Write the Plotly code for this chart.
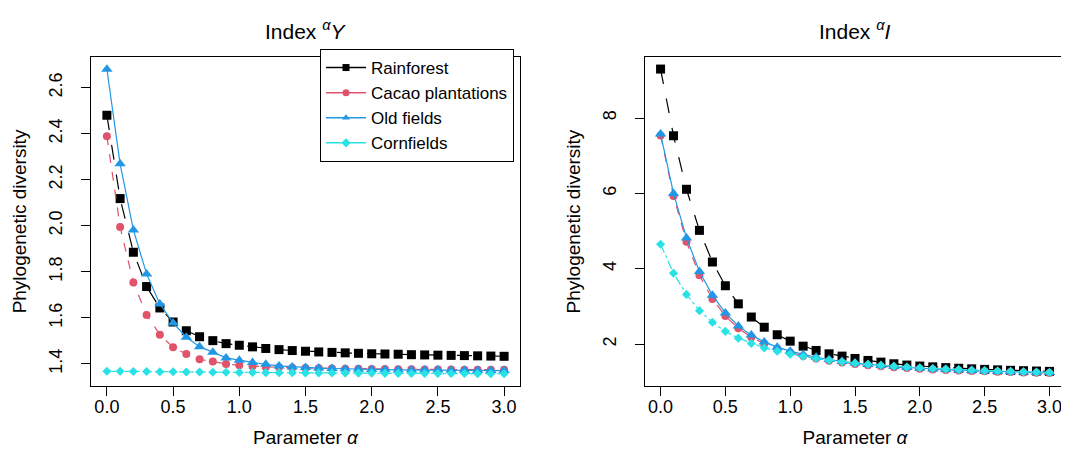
import plotly.graph_objects as go

alpha = [round(0.1 * i, 1) for i in range(31)]

series = ["Rainforest", "Cacao plantations", "Old fields", "Cornfields"]

# Index aY (left panel)
y_rain = [2.48, 2.118, 1.885, 1.736, 1.643, 1.582, 1.544, 1.518, 1.501, 1.488, 1.481,
          1.474, 1.467, 1.462, 1.458, 1.455, 1.452, 1.450, 1.448, 1.446, 1.444,
          1.443, 1.442, 1.440, 1.439, 1.438, 1.437, 1.436, 1.435, 1.434, 1.433]
y_cacao = [2.389, 1.995, 1.754, 1.612, 1.527, 1.472, 1.443, 1.420, 1.410, 1.400, 1.394,
           1.390, 1.387, 1.385, 1.383, 1.382, 1.381, 1.380, 1.379, 1.379, 1.378,
           1.378, 1.377, 1.377, 1.376, 1.376, 1.376, 1.375, 1.375, 1.375, 1.375]
y_old = [2.680, 2.269, 1.982, 1.791, 1.660, 1.578, 1.516, 1.475, 1.451, 1.426, 1.416,
         1.406, 1.398, 1.391, 1.387, 1.384, 1.382, 1.380, 1.378, 1.377, 1.376,
         1.375, 1.374, 1.374, 1.373, 1.373, 1.372, 1.372, 1.371, 1.371, 1.371]
y_corn = [1.368, 1.368, 1.367, 1.367, 1.366, 1.366, 1.365, 1.365, 1.364, 1.364, 1.363,
          1.363, 1.362, 1.362, 1.362, 1.361, 1.361, 1.361, 1.360, 1.360, 1.360,
          1.359, 1.359, 1.359, 1.358, 1.358, 1.358, 1.358, 1.357, 1.357, 1.357]

# Index aI (right panel)
i_rain = [9.30, 7.53, 6.11, 5.02, 4.18, 3.55, 3.07, 2.72, 2.45, 2.25, 2.08,
          1.947, 1.833, 1.744, 1.683, 1.621, 1.568, 1.524, 1.480, 1.445, 1.419,
          1.398, 1.378, 1.361, 1.345, 1.331, 1.318, 1.306, 1.296, 1.287, 1.278]
i_cacao = [7.54, 5.93, 4.72, 3.83, 3.20, 2.75, 2.42, 2.185, 2.01, 1.877, 1.77,
           1.686, 1.618, 1.562, 1.515, 1.476, 1.443, 1.414, 1.389, 1.367, 1.348,
           1.331, 1.316, 1.302, 1.290, 1.279, 1.268, 1.259, 1.250, 1.242, 1.235]
i_old = [7.58, 6.00, 4.82, 3.93, 3.30, 2.83, 2.48, 2.24, 2.06, 1.92, 1.815,
         1.726, 1.652, 1.592, 1.541, 1.499, 1.463, 1.432, 1.405, 1.382, 1.361,
         1.343, 1.327, 1.312, 1.299, 1.287, 1.276, 1.266, 1.258, 1.250, 1.250]
i_corn = [4.65, 3.885, 3.32, 2.89, 2.58, 2.34, 2.16, 2.02, 1.90, 1.815, 1.736,
          1.672, 1.618, 1.571, 1.531, 1.496, 1.465, 1.438, 1.414, 1.392, 1.373,
          1.355, 1.339, 1.325, 1.311, 1.299, 1.288, 1.277, 1.268, 1.259, 1.250]

x_ticks = [0.0, 0.5, 1.0, 1.5, 2.0, 2.5, 3.0]
x_ticklabels = ["0.0", "0.5", "1.0", "1.5", "2.0", "2.5", "3.0"]
yl_ticks = [1.4, 1.6, 1.8, 2.0, 2.2, 2.4, 2.6]
yr_ticks = [2, 4, 6, 8]

colors = ["#000000", "#DF536B", "#2297E6", "#28E2E5"]
symbols = ["square", "circle", "triangle-up", "diamond"]
msizes = [9, 8, 10, 7]
dashes = ["longdash", "dash", "solid", "dashdot"]

FONT = "Liberation Sans, Arial, sans-serif"

fig = go.Figure()

left_data = [y_rain, y_cacao, y_old, y_corn]
right_data = [i_rain, i_cacao, i_old, i_corn]

for k in range(4):
    fig.add_trace(go.Scatter(
        x=alpha, y=left_data[k], mode="lines+markers", xaxis="x", yaxis="y",
        line=dict(color=colors[k], width=1.2, dash=dashes[k]),
        marker=dict(color=colors[k], symbol=symbols[k], size=msizes[k], line=dict(width=0)),
        showlegend=False, name=series[k]))
    fig.add_trace(go.Scatter(
        x=alpha, y=right_data[k], mode="lines+markers", xaxis="x2", yaxis="y2",
        line=dict(color=colors[k], width=1.2, dash=dashes[k]),
        marker=dict(color=colors[k], symbol=symbols[k], size=msizes[k], line=dict(width=0)),
        showlegend=False, name=series[k]))

# legend entries (solid lines as in the reference legend)
for k in range(4):
    fig.add_trace(go.Scatter(
        x=[None], y=[None], mode="lines+markers", xaxis="x", yaxis="y",
        line=dict(color=colors[k], width=1.5),
        marker=dict(color=colors[k], symbol=symbols[k], size=7, line=dict(width=0)),
        name=series[k], showlegend=True))

axis_common = dict(showline=True, linecolor="black", linewidth=1, mirror=True,
                   ticks="outside", ticklen=9, tickcolor="black", showgrid=False,
                   zeroline=False, tickfont=dict(family=FONT, size=18, color="black"))

fig.update_layout(
    width=1069, height=455,
    margin=dict(l=0, r=0, t=0, b=0),
    plot_bgcolor="white", paper_bgcolor="white",
    font=dict(family=FONT, color="black"),
    xaxis=dict(domain=[83 / 1069, 512 / 1069], range=[-0.12, 3.12],
               tickvals=x_ticks, ticktext=x_ticklabels, anchor="y",
               ticklabelstandoff=-5,
               title=dict(text="Parameter <i>α</i>", font=dict(size=19), standoff=15),
               **axis_common),
    yaxis=dict(domain=[1 - 378 / 455, 1 - 49 / 455], range=[1.304, 2.733],
               tickvals=yl_ticks, tickformat=".1f", anchor="x", tickangle=-90,
               ticklabelstandoff=12,
               title=dict(text="Phylogenetic diversity", font=dict(size=19), standoff=14),
               **axis_common),
    xaxis2=dict(domain=[637 / 1069, 1057 / 1069], range=[-0.12, 3.12],
                tickvals=x_ticks, ticktext=x_ticklabels, anchor="y2",
                ticklabelstandoff=-5,
                title=dict(text="Parameter <i>α</i>", font=dict(size=19), standoff=15),
                **axis_common),
    yaxis2=dict(domain=[1 - 378 / 455, 1 - 49 / 455], range=[0.89, 9.62],
                tickvals=yr_ticks, anchor="x2", tickangle=-90,
                ticklabelstandoff=12,
                title=dict(text="Phylogenetic diversity", font=dict(size=19), standoff=14),
                **axis_common),
    legend=dict(x=506 / 1069, y=1 - 41 / 455, xanchor="right", yanchor="top",
                bordercolor="black", borderwidth=1, bgcolor="white",
                font=dict(family=FONT, size=17, color="black"),
                tracegroupgap=0, itemwidth=40, entrywidth=195, entrywidthmode="pixels"),
    annotations=[
        dict(text="Index <sup><i>α</i></sup><i>Y</i>", x=(83 + 512) / 2 / 1069, y=1 - 22 / 455,
             xref="paper", yref="paper", showarrow=False, font=dict(size=21, family=FONT),
             xanchor="center", yanchor="middle"),
        dict(text="Index <sup><i>α</i></sup><i>I</i>", x=(637 + 1057) / 2 / 1069, y=1 - 22 / 455,
             xref="paper", yref="paper", showarrow=False, font=dict(size=21, family=FONT),
             xanchor="center", yanchor="middle"),
    ],
)

fig.write_html("out.html")
